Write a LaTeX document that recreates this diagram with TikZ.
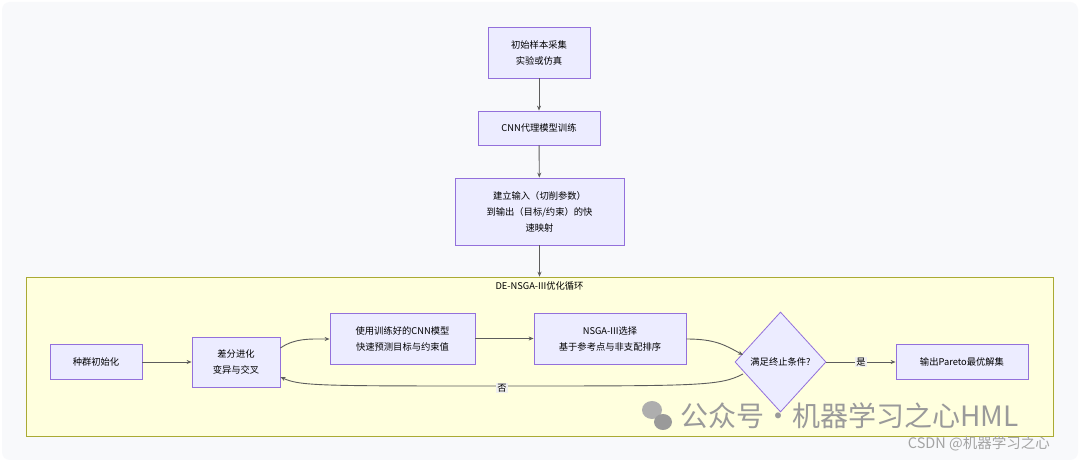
\documentclass[tikz,border=0pt]{standalone}
\usepackage{fontspec}
\setmainfont{Noto Sans CJK SC}
\usetikzlibrary{shapes.geometric,arrows.meta}
\definecolor{nfill}{HTML}{ECECFF}
\definecolor{nbord}{HTML}{9370DB}
\definecolor{cfill}{HTML}{FFFFDE}
\definecolor{cbord}{HTML}{AAAA33}
\definecolor{edge}{HTML}{333333}
\definecolor{wm}{HTML}{9A9A9A}
\tikzset{
  box/.style={draw=nbord,fill=nfill,line width=0.8pt,align=center,font=\fontsize{9.3}{16}\selectfont,inner sep=0pt},
  conn/.style={draw=edge!80,line width=0.9pt,-{Stealth[length=5pt,width=4pt]}},
  lab/.style={fill=gray!12,font=\fontsize{9.3}{10}\selectfont,inner sep=1pt}
}
\begin{document}
\begin{tikzpicture}[x=1pt,y=-1pt]
\useasboundingbox (0,0) rectangle (1080,462);
\fill[white] (0,0) rectangle (1080,462);
\fill[rounded corners=8pt,fill={rgb,255:red,248;green,249;blue,251}] (2,2) rectangle (1078,460);
\node[draw=cbord,fill=cfill,line width=0.6pt,minimum width=1027pt,minimum height=159pt,inner sep=0pt] (clu) at (539.5,356.5) {};
\node[font=\fontsize{9.3}{10}\selectfont] (clul) at (539.5,286) {DE-NSGA-III优化循环};
\node[box,minimum width=102pt,minimum height=51pt] (a) at (539,52.5) {初始样本采集\\实验或仿真};
\node[box,minimum width=122pt,minimum height=34pt] (b) at (539,128) {CNN代理模型训练};
\node[box,minimum width=169pt,minimum height=67pt] (c) at (539.5,211.5) {建立输入（切削参数）\\到输出（目标/约束）的快\\速映射};
\node[box,minimum width=92pt,minimum height=35pt] (d) at (96,362) {种群初始化};
\node[box,minimum width=88pt,minimum height=50pt] (e) at (236,362) {差分进化\\变异与交叉};
\node[box,minimum width=145pt,minimum height=51pt] (f) at (402.5,338.5) {使用训练好的CNN模型\\快速预测目标与约束值};
\node[box,minimum width=152pt,minimum height=51pt] (g) at (610,338.5) {NSGA-III选择\\基于参考点与非支配排序};
\node[diamond,draw=nbord,fill=nfill,line width=0.8pt,minimum width=91pt,minimum height=100pt,inner sep=0pt] (h) at (780.5,362) {};
\node[font=\fontsize{9.3}{10}\selectfont] (ht) at (780.5,362) {满足终止条件?};
\node[box,minimum width=132pt,minimum height=35pt] (i) at (962,362) {输出Pareto最优解集};
\draw[conn] (a) -- (b);
\draw[conn] (b) -- (c);
\draw[conn] (c) -- (clu.north);
\draw[conn] (d) -- (e);
\draw[conn] (e.east|-0,348) .. controls (295,338) and (310,339) .. (f.west|-0,339);
\draw[conn] (f) -- (g);
\draw[conn] (g.east|-0,339) .. controls (715,339) and (725,345) .. (743,355);
\draw[conn] (h) -- node[lab] {是} (i);
\draw[conn] (743,374) .. controls (720,386) and (700,386) .. (502,386) .. controls (320,386) and (300,386) .. (e.east|-0,377);
\node[lab] (no) at (502,388) {否};
% watermark
\fill[wm!80] (652,410) ellipse (10pt and 9pt);
\fill[wm] (663,422) ellipse (9pt and 8pt);
\node[text=wm,font=\fontsize{28}{29}\selectfont,anchor=west,inner sep=0pt] (wmt) at (680,416) {公众号·机器学习之心HML};
\node[text=wm!90,font=\fontsize{14.5}{15}\selectfont,anchor=east,inner sep=0pt] (csdn) at (1050,444) {CSDN @机器学习之心};
\end{tikzpicture}
\end{document}
